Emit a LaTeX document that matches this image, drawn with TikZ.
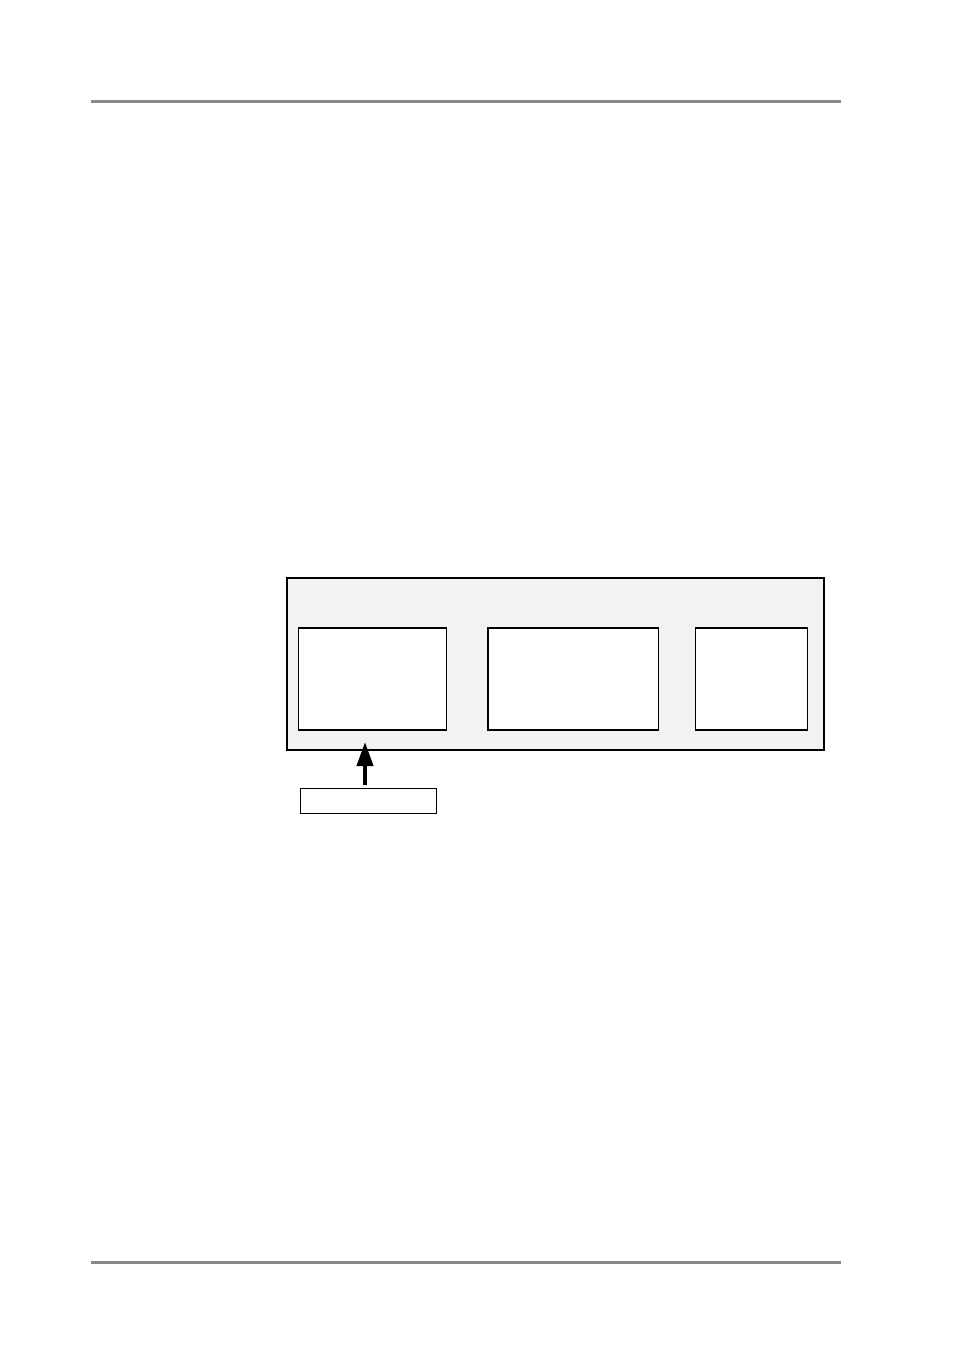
\documentclass[tikz,border=0pt]{standalone}
\usetikzlibrary{arrows.meta}
\definecolor{rulegray}{HTML}{888888}
\definecolor{panelgray}{HTML}{F2F2F2}
\tikzset{
  rulebar/.style={draw=rulegray, line width=3pt},
  panel/.style={draw=black, fill=panelgray, line width=2pt, rectangle, anchor=north west, inner sep=0pt, outer sep=0pt},
  subbox/.style={draw=black, fill=white, line width=1.5pt, rectangle, anchor=north west, inner sep=0pt, outer sep=0pt},
  labelbox/.style={draw=black, fill=white, line width=1pt, rectangle, anchor=north west, inner sep=0pt, outer sep=0pt},
  pointer/.style={line width=4pt, -{Triangle[length=24pt,width=16pt]}}
}
\begin{document}
\begin{tikzpicture}[x=1pt,y=-1pt]
\useasboundingbox (0,0) rectangle (954,1351);
% header and footer rules
\coordinate (t1) at (91,102);
\coordinate (t2) at (841,102);
\coordinate (b1) at (91,1262);
\coordinate (b2) at (841,1262);
\draw[rulebar] (t1) -- (t2);
\draw[rulebar] (b1) -- (b2);
% panel
\node[panel, minimum width=537pt, minimum height=172pt] (outer) at (287,578) {};
\node[subbox, minimum width=148pt, minimum height=102pt] (boxA) at (298.5,628) {};
\node[subbox, minimum width=170.5pt, minimum height=102pt] (boxB) at (488,628) {};
\node[subbox, minimum width=112pt, minimum height=102pt] (boxC) at (695.5,628) {};
% label box and pointer
\node[labelbox, minimum width=136pt, minimum height=25pt] (lbl) at (300.5,788) {};
\coordinate (tip) at (365,742);
\coordinate (foot) at (365,785);
\draw[pointer] (foot) -- (tip);
\end{tikzpicture}
\end{document}
